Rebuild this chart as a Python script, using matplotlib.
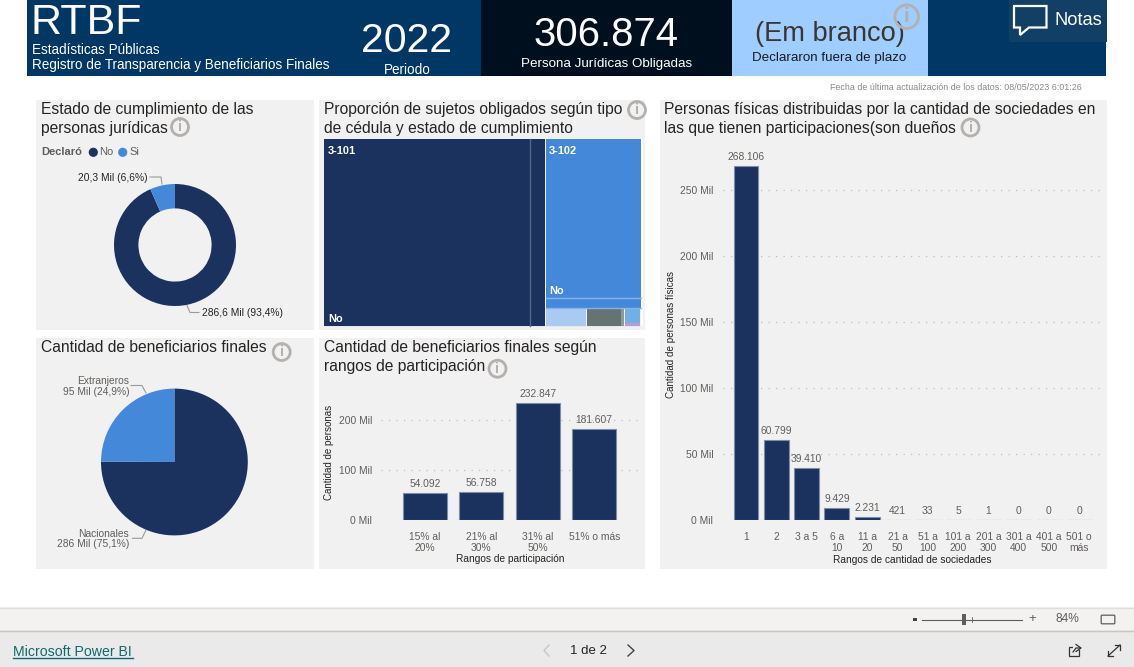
import matplotlib
matplotlib.use("Agg")
import matplotlib.pyplot as plt
from matplotlib.patches import Rectangle, Circle, Polygon, FancyBboxPatch

plt.rcParams['font.family'] = ['Liberation Sans', 'DejaVu Sans']

W, H = 1134, 667
NAVY = '#1B325F'
BLUE = '#4488DA'
PANEL = '#F1F1F1'
DARK = '#252423'
GREY = '#605E5C'
EDGE = '#7F8CA6'

# ---- data ----
compliance_labels = ['No', 'Si']
compliance_values = [286.6, 20.3]
compliance_text = ['286,6 Mil (93,4%)', '20,3 Mil (6,6%)']

benef_labels = ['Nacionales', 'Extranjeros']
benef_values = [286, 95]
benef_text = ['Nacionales\n286 Mil (75,1%)', 'Extranjeros\n95 Mil (24,9%)']

range_labels = ['15% al\n20%', '21% al\n30%', '31% al\n50%', '51% o más']
range_values = [54092, 56758, 232847, 181607]
range_text = ['54.092', '56.758', '232.847', '181.607']

soc_labels = ['1', '2', '3 a 5', '6 a\n10', '11 a\n20', '21 a\n50', '51 a\n100', '101 a\n200',
              '201 a\n300', '301 a\n400', '401 a\n500', '501 o\nmás']
soc_values = [268106, 60799, 39410, 9429, 2231, 421, 33, 5, 1, 0, 0, 0]
soc_text = ['268.106', '60.799', '39.410', '9.429', '2.231', '421', '33', '5', '1', '0', '0', '0']

tree_101 = [199.3, 15.3]
tree_102_main = [78.9, 4.8]
tree_102_small = [3.68, 3.14, 0.31, 1.44]
tree_small_colors = ['#A9CBF2', '#667373', '#8E9A9A', '#6FB0E8']

fig = plt.figure(figsize=(W / 100, H / 100), dpi=100, facecolor='white')
bg = fig.add_axes([0, 0, 1, 1])
bg.set_xlim(0, W)
bg.set_ylim(H, 0)
bg.axis('off')


def box(x0, y0, x1, y1, color, z=1, **kw):
    bg.add_patch(Rectangle((x0, y0), x1 - x0, y1 - y0, facecolor=color, edgecolor='none', zorder=z, **kw))


def text(x, y, s, size, color=DARK, ha='left', va='center', **kw):
    return bg.text(x, y, s, fontsize=size, color=color, ha=ha, va=va, zorder=6, **kw)


def info(x, y, r=8.5, color='#B3B0AD'):
    bg.add_patch(Circle((x, y), r, facecolor='none', edgecolor=color, lw=2.0, zorder=7))
    text(x, y, 'i', r * 1.25, color=color, ha='center', fontweight='bold')


def sub_axes(x0, y0, x1, y1):
    a = fig.add_axes([x0 / W, 1 - y1 / H, (x1 - x0) / W, (y1 - y0) / H])
    a.patch.set_alpha(0)
    return a


# ---- header ----
box(27, 0, 1106, 75.5, '#003764')
box(481, 0, 732, 75.5, '#000F1E')
box(732, 0, 928, 75.5, '#9FCDFF')
box(1009, 0, 1106.5, 42, '#113F66', z=2)
text(31, 23.5, 'RTBF', 31, color='white')
text(31.5, 49.5, 'Estadísticas Públicas', 9.75, color='white')
text(31.5, 64.5, 'Registro de Transparencia y Beneficiarios Finales', 9.75, color='white')
text(407, 40.5, '2022', 29.5, color='white', ha='center')
text(407, 70, 'Periodo', 9.75, color='white', ha='center')
text(606, 35.5, '306.874', 28.9, color='white', ha='center')
text(606.5, 64, 'Persona Jurídicas Obligadas', 9.65, color='white', ha='center')
text(830, 34, '(Em branco)', 19.6, color='#3A3530', ha='center')
text(829.5, 57.5, 'Declararon fuera de plazo', 9.65, color='#1A1A1A', ha='center')
info(906.7, 16.7, r=11.8)
bg.add_patch(Polygon([(1014, 6), (1046.5, 6), (1046.5, 27.5), (1029, 27.5), (1020, 35), (1020, 27.5), (1014, 27.5)],
                     closed=True, facecolor='none', edgecolor='white', lw=1.6, zorder=7))
text(1054, 20.5, 'Notas', 13.2, color='white')
text(1081.5, 87.5, 'Fecha de última actualización de los datos: 08/05/2023 6:01:26', 6.4, color='#8A8886', ha='right')

# ---- panels ----
for p in [(36, 100, 314, 330), (319, 100, 645, 330), (660, 100, 1107, 569), (36, 338, 314, 569), (319, 338, 645, 569)]:
    box(*p, PANEL)

TS = 11.27
text(41, 109.5, 'Estado de cumplimiento de las', TS)
text(41, 128, 'personas jurídicas', TS)
info(180, 127)
text(324, 109.5, 'Proporción de sujetos obligados según tipo', TS)
text(324, 128.5, 'de cédula y estado de cumplimiento', TS)
info(637, 110)
text(664, 109.5, 'Personas físicas distribuidas por la cantidad de sociedades en', TS)
text(664, 128, 'las que tienen participaciones(son dueños', TS)
info(970.5, 127.5)
text(41, 347.5, 'Cantidad de beneficiarios finales', TS)
info(281.7, 352)
text(324, 347.5, 'Cantidad de beneficiarios finales según', TS)
text(324, 367, 'rangos de participación', TS)
info(497.5, 368.7)

# ---- donut ----
text(41, 152.3, 'Declaró', 8, color=GREY, fontweight='bold')
bg.add_patch(Circle((93.3, 152.3), 4.6, facecolor=NAVY, edgecolor='none', zorder=5))
text(99, 152.3, compliance_labels[0], 8, color=GREY)
bg.add_patch(Circle((122.7, 152.3), 4.6, facecolor=BLUE, edgecolor='none', zorder=5))
text(129, 152.3, compliance_labels[1], 8, color=GREY)

d = sub_axes(175 - 61, 245 - 61, 175 + 61, 245 + 61)
d.pie(compliance_values, colors=[NAVY, BLUE], startangle=90, counterclock=False, radius=1,
      wedgeprops=dict(width=0.4, linewidth=0))
d.set_xlim(-1, 1)
d.set_ylim(-1, 1)
text(147.5, 177.7, compliance_text[1], 7.35, ha='right')
bg.plot([150, 161, 162], [177, 177, 184], color='#9A9A9A', lw=0.8, zorder=5)
text(202.3, 312.7, compliance_text[0], 7.35)
bg.plot([187, 190, 199], [305.5, 312.5, 312.5], color='#9A9A9A', lw=0.8, zorder=5)

# ---- treemap ----
tx0, tx1, ty0, ty1 = 324, 640.5, 139, 325.5
t101 = sum(tree_101)
t102 = sum(tree_102_main) + sum(tree_102_small)
total = t101 + t102
split = tx0 + (tx1 - tx0) * t101 / total
box(tx1, ty0, 643, ty1, 'white', z=2)
box(tx0, ty1, 641, ty1 + 1, '#E6E6E6', z=2)
cx = tx0
for v in tree_101:
    w = (split - tx0) * v / t101
    box(cx, ty0, cx + w, ty1, NAVY, z=2)
    if cx > tx0:
        bg.plot([cx, cx], [ty0, ty1], color='#55688C', lw=1, zorder=3)
    cx += w
cy = ty0
for v in tree_102_main:
    h = (ty1 - ty0) * v / t102
    box(split + 1, cy, tx1, cy + h, BLUE, z=2)
    cy += h
    bg.plot([split + 1, tx1], [cy, cy], color='#85B2E8', lw=1, zorder=3)
small_sum = sum(tree_102_small)
cx = split + 1
for v, c in zip(tree_102_small, tree_small_colors):
    w = (tx1 - split - 1) * v / small_sum
    box(cx, cy + 0.5, cx + w - 0.7, ty1, c, z=2)
    cx += w
box(cx - w, ty1 - 2.5, tx1 - 0.7, ty1, '#B79AD8', z=3)
text(328, 150.5, '3-101', 7.9, color='white', fontweight='bold')
text(549, 150.5, '3-102', 7.9, color='white', fontweight='bold')
text(328, 318.5, 'No', 7.9, color='white', fontweight='bold')
text(549, 290.5, 'No', 7.9, color='white', fontweight='bold')

# ---- pie ----
e = sub_axes(174.4 - 73.4, 462 - 73.4, 174.4 + 73.4, 462 + 73.4)
e.pie(benef_values, colors=[NAVY, BLUE], startangle=90, counterclock=False, radius=1,
      wedgeprops=dict(linewidth=0))
e.set_xlim(-1, 1)
e.set_ylim(-1, 1)
text(129.3, 386.3, benef_text[1], 7.35, color=GREY, ha='right', linespacing=1.1)
bg.plot([131, 142, 146], [385.5, 385.5, 393], color='#9A9A9A', lw=0.8, zorder=5)
text(129.3, 539, benef_text[0], 7.35, color=GREY, ha='right', linespacing=1.1)
bg.plot([132.5, 142, 146], [538.3, 538.3, 530], color='#9A9A9A', lw=0.8, zorder=5)


def style_bars(a, ticks, labels, ypad, ylabel_px, ylabel, ylabel_size, xlabel, xlabel_px, xmid, ymid):
    for s in a.spines.values():
        s.set_visible(False)
    a.set_yticks(ticks)
    a.set_yticklabels(labels, fontsize=7.35, color=GREY)
    a.tick_params(length=0)
    a.tick_params(axis='y', pad=ypad)
    a.tick_params(axis='x', pad=8.3, labelsize=7.35, labelcolor=GREY)
    a.grid(axis='y', linestyle=(0, (1, 5)), color='#C0BEBC', lw=0.9)
    a.set_axisbelow(True)
    text(ylabel_px, ymid, ylabel, ylabel_size, color=DARK, rotation=90, ha='center')
    text(xmid, xlabel_px, xlabel, 7.25, color=DARK, ha='center')


# ---- range bars ----
# 0 at pixel 520.3, 100 Mil = 50.3 px; categories every 56.5 px, first centred on 424.75
r = sub_axes(381, 390, 640, 520.3)
r.bar(range(len(range_values)), range_values, width=0.77, color=NAVY, edgecolor=EDGE, linewidth=0.8)
r.set_xlim((381 - 424.75) / 56.5, (640 - 424.75) / 56.5)
r.set_ylim(0, 130.3 / 50.3 * 100000)
r.set_xticks(range(len(range_labels)))
r.set_xticklabels(range_labels, linespacing=1.12)
style_bars(r, [0, 100000, 200000], ['0 Mil', '100 Mil', '200 Mil'], 6.3, 329.5, 'Cantidad de personas', 7.0,
           'Rangos de participación', 559, 510.5, 452.8)
for i, (v, s) in enumerate(zip(range_values, range_text)):
    r.annotate(s, (i, v), xytext=(0, 3), textcoords='offset points', ha='center', va='bottom',
               fontsize=7.35, color=GREY, annotation_clip=False)

# ---- society bars ----
# 0 at pixel 520.3, 50 Mil = 66 px; categories every 30.3 px, first centred on 746
c = sub_axes(723, 150, 1103, 520.3)
c.bar(range(len(soc_values)), soc_values, width=0.825, color=NAVY, edgecolor=EDGE, linewidth=0.8)
c.set_xlim((723 - 746) / 30.3, (1103 - 746) / 30.3)
c.set_ylim(0, 370.3 / 66 * 50000)
c.set_xticks(range(len(soc_labels)))
c.set_xticklabels(soc_labels, linespacing=1.12)
style_bars(c, [0, 50000, 100000, 150000, 200000, 250000],
           ['0 Mil', '50 Mil', '100 Mil', '150 Mil', '200 Mil', '250 Mil'], 7,
           670.5, 'Cantidad de personas físicas', 7.1, 'Rangos de cantidad de sociedades', 559.7, 912, 334.5)
for i, (v, s) in enumerate(zip(soc_values, soc_text)):
    c.annotate(s, (i, v), xytext=(0, 3), textcoords='offset points', ha='center', va='bottom',
               fontsize=7.35, color=GREY, annotation_clip=False)

# ---- footer ----
box(0, 607, W, 630, '#F3F2F1')
box(0, 630, W, 667, '#EAEAEA')
bg.plot([0, W], [607.5, 607.5], color='#E1DFDD', lw=1, zorder=2)
bg.plot([0, W], [630.5, 630.5], color='#C8C6C4', lw=1, zorder=2)
text(13, 651.5, 'Microsoft Power BI', 10.2, color='#11696B')
bg.plot([13, 133], [658, 658], color='#11696B', lw=1, zorder=6)
text(588, 651, '1 de 2', 9.5, color='#252423', ha='center')
bg.plot([549, 544, 549], [645, 650.5, 656], color='#C8C6C4', lw=1, zorder=6)
bg.plot([628, 634, 628], [645, 650.5, 656], color='#444444', lw=1, zorder=6)
box(913, 618, 917, 620.5, '#444444', z=7)
bg.plot([922, 1022], [619.5, 619.5], color='#605E5C', lw=0.8, zorder=6)
box(962, 614, 965.5, 625, '#605E5C', z=7)
bg.plot([972, 972], [617, 622], color='#605E5C', lw=0.6, zorder=6)
text(1032, 619, '+', 9.5, color='#605E5C', ha='center')
text(1067, 619, '84%', 8.6, color='#605E5C', ha='center')
bg.add_patch(FancyBboxPatch((1102, 616), 12, 7, boxstyle='round,pad=0.8', facecolor='none',
                            edgecolor='#605E5C', lw=0.9, zorder=6))
bg.add_patch(Rectangle((1068.5, 646.5), 10, 9.5, facecolor='none', edgecolor='#333333', lw=0.9, zorder=6))
box(1073, 643, 1081, 650, '#EAEAEA', z=6.5)
bg.plot([1073, 1076, 1080], [652, 648, 648], color='#333333', lw=0.9, zorder=7)
bg.plot([1076, 1081, 1076], [644.5, 648, 651.5], color='#333333', lw=0.9, zorder=7)
bg.plot([1108, 1120], [656, 645], color='#333333', lw=0.9, zorder=6)
bg.plot([1115, 1120, 1120], [645, 645, 650], color='#333333', lw=0.9, zorder=6)
bg.plot([1108, 1108, 1113], [651, 656, 656], color='#333333', lw=0.9, zorder=6)

fig.savefig('out.png', dpi=100, facecolor='white')
